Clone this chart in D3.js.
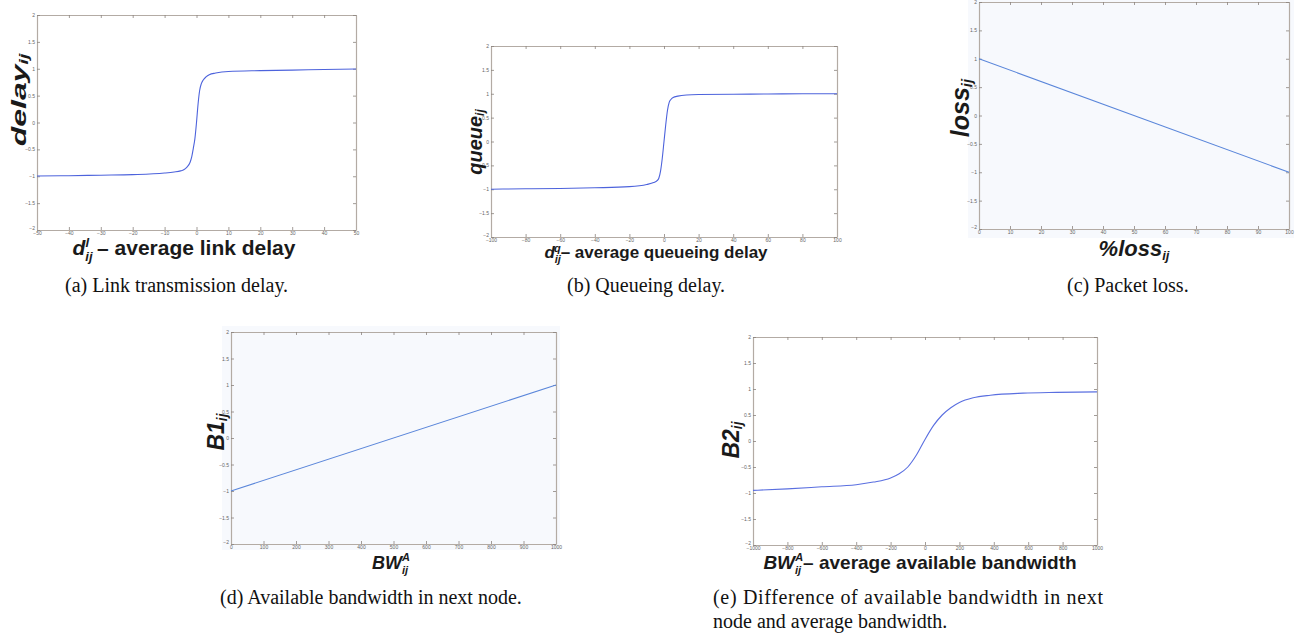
<!DOCTYPE html>
<html><head><meta charset="utf-8">
<script src="https://cdn.jsdelivr.net/npm/d3@7"></script>
<style>
html,body{margin:0;padding:0;background:#fff;}
svg{display:block;}
text{font-family:"Liberation Sans",Arial,sans-serif;}
.cap{font-family:"Liberation Serif","Times New Roman",serif;font-size:20px;fill:#111;}
</style></head>
<body>
<script>
// ---------- data ----------
const yTicks = [-2, -1.5, -1, -0.5, 0, 0.5, 1, 1.5, 2];

const aTicks = [-50, -40, -30, -20, -10, 0, 10, 20, 30, 40, 50];
const aX = [-50, -40, -30, -20, -10, -7, -5, -4, -3, -2, -1.5, -1, -0.5, 0, 0.5, 1, 1.5, 2, 3, 4, 6, 10, 20, 30, 40, 50];
const aY = [-0.995, -0.99, -0.98, -0.97, -0.94, -0.92, -0.9, -0.88, -0.83, -0.74, -0.64, -0.48, -0.3, 0, 0.35, 0.6, 0.72, 0.78, 0.85, 0.89, 0.92, 0.95, 0.965, 0.975, 0.985, 0.995];

const bTicks = [-100, -80, -60, -40, -20, 0, 20, 40, 60, 80, 100];
const bX = [-100, -80, -60, -40, -20, -10, -6, -4, -3, -2, -1, 0, 1, 2, 3, 4, 5.3, 8, 13, 20, 40, 60, 80, 100];
const bY = [-1.0, -0.99, -0.985, -0.97, -0.945, -0.9, -0.86, -0.82, -0.77, -0.62, -0.35, 0, 0.35, 0.65, 0.82, 0.88, 0.92, 0.95, 0.975, 0.985, 0.99, 0.995, 1.0, 1.0];

const cTicks = [0, 10, 20, 30, 40, 50, 60, 70, 80, 90, 100];
const cX = [0, 100];
const cY = [1, -1];

const dTicks = [0, 100, 200, 300, 400, 500, 600, 700, 800, 900, 1000];
const dX = [0, 1000];
const dY = [-1, 1];

const eTicks = [-1000, -800, -600, -400, -200, 0, 200, 400, 600, 800, 1000];
const eX = [-1000, -800, -600, -400, -300, -200, -150, -100, -50, 0, 50, 100, 150, 200, 280, 380, 570, 765, 1000];
const eY = [-0.95, -0.92, -0.88, -0.84, -0.79, -0.71, -0.63, -0.5, -0.27, 0.03, 0.3, 0.5, 0.64, 0.74, 0.83, 0.88, 0.92, 0.935, 0.945];

const captions = ["(a) Link transmission delay.", "(b) Queueing delay.", "(c) Packet loss.",
  "(d) Available bandwidth in next node.", "(e) Difference of available bandwidth in next", "node and average bandwidth."];

// ---------- drawing ----------
const W = 1299, H = 636;
const svg = d3.select("body").append("svg").attr("width", W).attr("height", H);

const frameCol = "#b3aba4";

function panel(p) {
  const g = svg.append("g");
  if (p.bg) {
    g.append("rect").attr("x", p.bg[0]).attr("y", p.bg[1]).attr("width", p.bg[2]).attr("height", p.bg[3]).attr("fill", "#f7f9fd");
  }
  const x = d3.scaleLinear().domain([p.ticks[0], p.ticks[p.ticks.length - 1]]).range([p.l, p.r]);
  const y = d3.scaleLinear().domain([-2, 2]).range([p.b, p.t]);
  g.append("rect").attr("x", p.l).attr("y", p.t).attr("width", p.r - p.l).attr("height", p.b - p.t)
    .attr("fill", p.bg ? "#f7f9fd" : "#fff");

  const style = sel => {
    sel.select(".domain").attr("stroke", frameCol).attr("stroke-width", 1.2);
    sel.selectAll(".tick line").attr("stroke", "#8a837d").attr("stroke-width", 0.8);
  };
  g.append("g").attr("transform", `translate(0,${p.b})`)
    .call(d3.axisBottom(x).tickValues(p.ticks).tickSizeInner(-3).tickSizeOuter(0).tickPadding(1).tickFormat(d3.format("")))
    .call(style);
  g.append("g").attr("transform", `translate(0,${p.t})`)
    .call(d3.axisTop(x).tickValues(p.ticks).tickSizeInner(-3).tickSizeOuter(0).tickFormat(""))
    .call(style);
  const yl = g.append("g").attr("transform", `translate(${p.l},0)`)
    .call(d3.axisLeft(y).tickValues(yTicks).tickSizeInner(-3).tickSizeOuter(0).tickPadding(2).tickFormat(d3.format("")))
    .call(style);
  // bottom-most y label sits just above the corner
  yl.selectAll(".tick text").filter(d => d === -2).attr("dy", "-0.2em");
  g.append("g").attr("transform", `translate(${p.r},0)`)
    .call(d3.axisRight(y).tickValues(yTicks).tickSizeInner(-3).tickSizeOuter(0).tickFormat(""))
    .call(style);
  g.selectAll(".tick text").attr("font-size", 5).attr("fill", "#666");

  const pts = p.xs.map((v, i) => [v, p.ys[i]]);
  g.append("path").datum(pts)
    .attr("fill", "none").attr("stroke", p.col).attr("stroke-width", 1.1)
    .attr("d", d3.line().x(d => x(d[0])).y(d => y(d[1])).curve(d3.curveMonotoneX));
  return g;
}

// Panel (a)
panel({l: 37, r: 356, t: 15, b: 230, ticks: aTicks, xs: aX, ys: aY, col: "#4d63dc"});
// Panel (b)
panel({l: 491, r: 837, t: 46, b: 237, ticks: bTicks, xs: bX, ys: bY, col: "#4d63dc"});
// Panel (c)
panel({l: 979, r: 1289, t: 2, b: 229, ticks: cTicks, xs: cX, ys: cY, col: "#5a86da", bg: [968, 0, 326, 238]});
// Panel (d)
panel({l: 231, r: 556, t: 332, b: 544, ticks: dTicks, xs: dX, ys: dY, col: "#5a86da", bg: [222, 326, 338, 224]});
// Panel (e)
panel({l: 753, r: 1097, t: 337, b: 545, ticks: eTicks, xs: eX, ys: eY, col: "#5a6fe0"});

// ---------- axis labels ----------
const lab = svg.append("g").attr("fill", "#1a1a1a").attr("font-weight", "bold");

function ylab(cx, cy, main, sub, fs, sx) {
  const t = lab.append("text")
    .attr("transform", `translate(${cx},${cy}) rotate(-90) scale(${sx},1)`)
    .attr("text-anchor", "middle").attr("dominant-baseline", "central")
    .attr("font-style", "italic").attr("font-size", fs);
  t.append("tspan").text(main);
  t.append("tspan").attr("font-size", fs * 0.6).attr("dy", fs * 0.25).text(sub);
}
ylab(19, 100, "delay", "ij", 20, 1.6);
ylab(475, 142, "queue", "ij", 20, 1.0);
ylab(960, 108, "loss", "ij", 25, 1.0);
ylab(216, 432, "B1", "ij", 23, 1.0);
ylab(731, 440, "B2", "ij", 23, 1.0);

// x label (a)
{
  const fs = 21;
  const t = lab.append("text").attr("x", 184).attr("y", 255).attr("text-anchor", "middle").attr("font-size", fs);
  t.append("tspan").attr("font-style", "italic").text("d");
  t.append("tspan").attr("font-style", "italic").attr("font-size", 13).attr("dy", 6).text("ij");
  t.append("tspan").attr("font-style", "italic").attr("font-size", 13).attr("dx", -7).attr("dy", -14).text("l");
  t.append("tspan").attr("dy", 8).attr("dx", 2).text(" – average link delay");
}
// x label (b)
{
  const fs = 17;
  const t = lab.append("text").attr("x", 656).attr("y", 258).attr("text-anchor", "middle").attr("font-size", fs);
  t.append("tspan").attr("font-style", "italic").text("d");
  t.append("tspan").attr("font-style", "italic").attr("font-size", 11).attr("dy", 5).text("ij");
  t.append("tspan").attr("font-style", "italic").attr("font-size", 11).attr("dx", -7).attr("dy", -11).text("q");
  t.append("tspan").attr("dy", 6).text("– average queueing delay");
}
// x label (c)
{
  const t = lab.append("text").attr("x", 1134).attr("y", 256).attr("text-anchor", "middle").attr("font-size", 22).attr("font-style", "italic");
  t.append("tspan").text("%loss");
  t.append("tspan").attr("font-size", 13).attr("dy", 4).text("ij");
}
// x label (d)
{
  const t = lab.append("text").attr("x", 391).attr("y", 569).attr("text-anchor", "middle").attr("font-size", 18).attr("font-style", "italic");
  t.append("tspan").text("BW");
  t.append("tspan").attr("font-size", 11).attr("dy", 5).text("ij");
  t.append("tspan").attr("font-size", 11).attr("dx", -6).attr("dy", -13).text("A");
}
// x label (e)
{
  const t = lab.append("text").attr("x", 920).attr("y", 569).attr("text-anchor", "middle").attr("font-size", 19);
  t.append("tspan").attr("font-style", "italic").text("BW");
  t.append("tspan").attr("font-style", "italic").attr("font-size", 11).attr("dy", 5).text("ij");
  t.append("tspan").attr("font-style", "italic").attr("font-size", 11).attr("dx", -6).attr("dy", -13).text("A");
  t.append("tspan").attr("dy", 8).text("– average available bandwidth");
}

// ---------- captions ----------
const cap = svg.append("g");
cap.append("text").attr("class", "cap").attr("x", 65).attr("y", 292).text(captions[0]);
cap.append("text").attr("class", "cap").attr("x", 567).attr("y", 292).text(captions[1]);
cap.append("text").attr("class", "cap").attr("x", 1067).attr("y", 292).text(captions[2]);
cap.append("text").attr("class", "cap").attr("x", 220).attr("y", 604).text(captions[3]);
cap.append("text").attr("class", "cap").attr("x", 713).attr("y", 604).attr("textLength", 390).attr("lengthAdjust", "spacing").text(captions[4]);
cap.append("text").attr("class", "cap").attr("x", 713).attr("y", 628).text(captions[5]);
</script>
</body></html>
